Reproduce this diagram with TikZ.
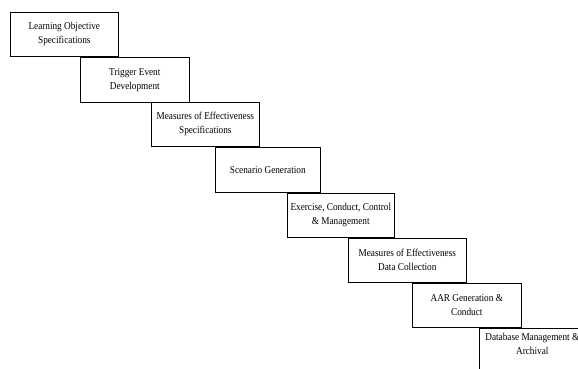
\documentclass[tikz,border=0pt]{standalone}
\usepackage{fontspec}
\setmainfont{Liberation Serif}[FakeStretch=0.88]
\begin{document}
\begin{tikzpicture}[x=1pt,y=-1pt,
  stagebox/.style={draw=black, line width=0.6pt, fill=white, rectangle, anchor=north west,
    inner sep=0pt, align=center, font=\fontsize{10.5}{14}\selectfont}]
\useasboundingbox (0,0) rectangle (578,368);
\node[stagebox, minimum width=108pt, minimum height=44pt] (b1) at (10,12) {Learning Objective\\Specifications};
\node[stagebox, minimum width=109pt, minimum height=45pt] (b2) at (80,57) {Trigger Event\\Development};
\node[stagebox, minimum width=108pt, minimum height=44pt] (b3) at (151,102) {Measures of Effectiveness\\Specifications};
\node[stagebox, minimum width=105pt, minimum height=45pt] (b4) at (215,147) {Scenario Generation};
\node[stagebox, minimum width=107pt, minimum height=44pt] (b5) at (287,193) {Exercise, Conduct, Control\\\&{} Management};
\node[stagebox, minimum width=118pt, minimum height=44pt] (b6) at (348,238) {Measures of Effectiveness\\Data Collection};
\node[stagebox, minimum width=109pt, minimum height=44pt] (b7) at (412,283) {AAR Generation \&\\Conduct};
\node[stagebox, minimum width=106pt, minimum height=50pt] (b8) at (479,328) {Database Management \&\\Archival\\[4pt]};
\end{tikzpicture}
\end{document}
